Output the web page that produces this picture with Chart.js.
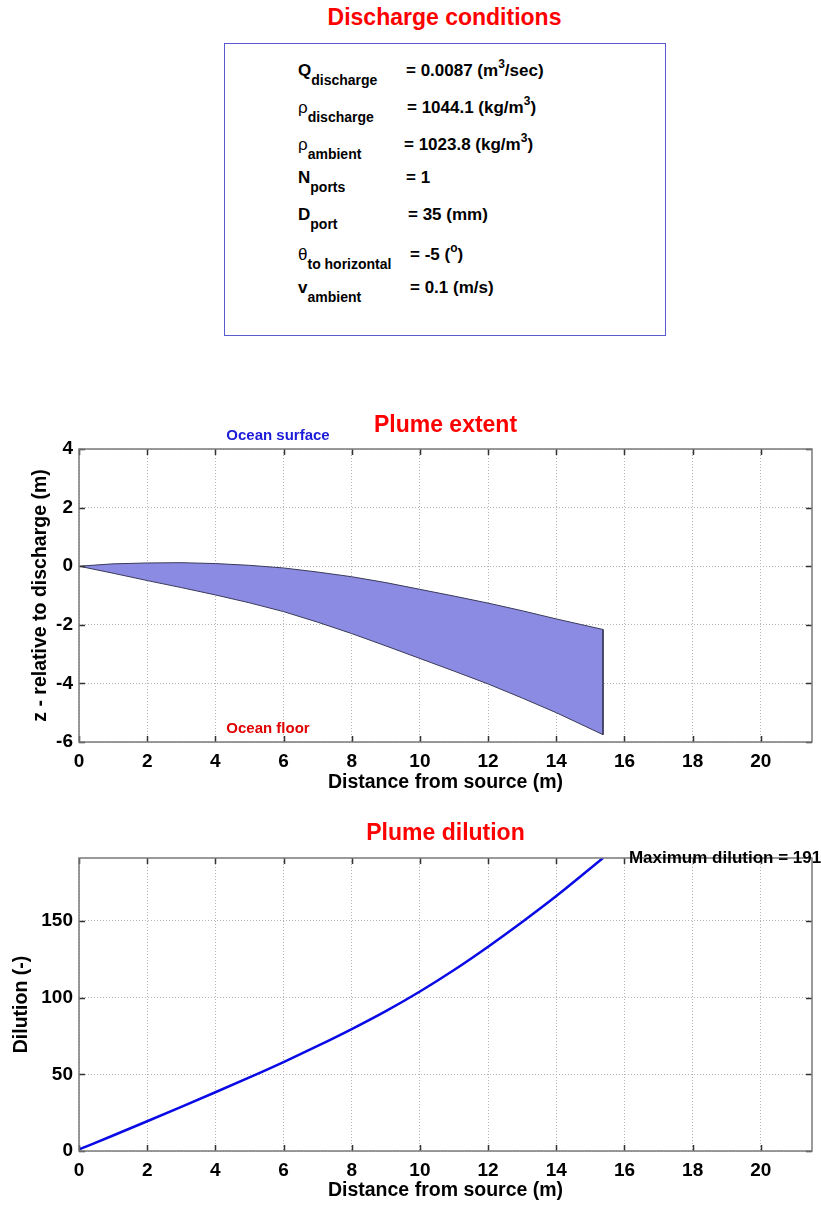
<!DOCTYPE html>
<html>
<head>
<meta charset="utf-8">
<script src="https://cdn.jsdelivr.net/npm/chart.js@4.4.0/dist/chart.umd.min.js"></script>
<style>
  body { margin: 0; background: #fff; }
  #page { position: relative; width: 821px; height: 1205px; overflow: hidden; font-family: 'Liberation Sans', Arial, sans-serif; }
  .head { position: absolute; left: 0; width: 889px; text-align: center; color: #ff0000; font-weight: bold; font-size: 23px; line-height: 23px; }
  #box { position: absolute; left: 224px; top: 43px; width: 442px; height: 293px; box-sizing: border-box; border: 1.5px solid #5a5ad0; }
  .row { position: absolute; font-size: 17px; line-height: 17px; font-weight: bold; color: #000; white-space: nowrap; }
  .row .sym.greek { font-weight: normal; }
  .row .sub { font-size: 14px; position: relative; top: 9px; }
  .row sup { font-size: 12px; line-height: 0; position: relative; top: -1px; }
  canvas { position: absolute; left: 0; }
</style>
</head>
<body>
<div id="page">
  <div class="head" style="top:6px">Discharge conditions</div>
  <div id="box"></div>
  <canvas id="extentChart" width="821" height="400" style="top:400px"></canvas>
  <canvas id="dilutionChart" width="821" height="405" style="top:800px"></canvas>
</div>
<script>
// discharge parameters
const paramSymbols = ['Q', 'ρ', 'ρ', 'N', 'D', 'θ', 'v'];
const paramSubs = ['discharge', 'discharge', 'ambient', 'ports', 'port', 'to horizontal', 'ambient'];
const paramValues = ['0.0087', '1044.1', '1023.8', '1', '35', '-5', '0.1'];
const paramUnits = ['(m<sup>3</sup>/sec)', '(kg/m<sup>3</sup>)', '(kg/m<sup>3</sup>)', '', '(mm)', '(<sup>o</sup>)', '(m/s)'];

// plume extent (m)
const plumeX = [0, 1, 2, 3, 4, 5, 6, 7, 8, 9, 10, 11, 12, 13, 14, 15.37];
const plumeTop = [0, 0.08, 0.11, 0.12, 0.09, 0.03, -0.06, -0.2, -0.36, -0.56, -0.79, -1.02, -1.26, -1.52, -1.8, -2.16];
const plumeBottom = [0, -0.24, -0.49, -0.73, -0.98, -1.25, -1.55, -1.91, -2.3, -2.72, -3.15, -3.58, -4.02, -4.5, -5.0, -5.75];

// plume dilution
const dilutionX = [0, 1, 2, 3, 4, 5, 6, 7, 8, 9, 10, 11, 12, 13, 14, 15.37];
const dilution = [1, 10.1, 19.4, 28.8, 38.3, 48.0, 58.0, 68.5, 79.5, 91.2, 104.0, 118.0, 133.2, 149.3, 166.2, 191];

const FONT = "'Liberation Sans', Arial, sans-serif";

// box rows: baseline y and value x inside page
const rowBase = [76, 113, 150, 183, 220, 260, 293];
const valueLeft = [406, 407, 404, 406, 408, 410, 410];

const buildBox = function () {
  const page = document.getElementById('page');
  let html = '';
  for (let i = 0; i < paramSymbols.length; i++) {
    const top = rowBase[i] - 14;
    const greek = /[ρθ]/.test(paramSymbols[i]) ? ' greek' : '';
    html += `<div class="row" style="left:298px;top:${top}px"><span class="sym${greek}">${paramSymbols[i]}</span><span class="sub">${paramSubs[i]}</span></div>`;
    html += `<div class="row" style="left:${valueLeft[i]}px;top:${top}px">= ${paramValues[i]} ${paramUnits[i]}</div>`;
  }
  page.insertAdjacentHTML('beforeend', html);
};

// matlab style frame, inward ticks, title and text notes
const matlabAxes = {
  id: 'matlabAxes',
  afterDraw(chart, args, opts) {
    const { ctx, chartArea: a } = chart;
    const x = chart.scales.x, y = chart.scales.y;
    ctx.save();
    ctx.strokeStyle = '#333';
    ctx.lineWidth = 1.5;
    ctx.beginPath();
    x.ticks.forEach(t => {
      const px = Math.round(x.getPixelForValue(t.value)) + 0.5;
      ctx.moveTo(px, a.bottom); ctx.lineTo(px, a.bottom - 6);
      ctx.moveTo(px, a.top); ctx.lineTo(px, a.top + 6);
    });
    y.ticks.forEach(t => {
      const py = Math.round(y.getPixelForValue(t.value)) + 0.5;
      ctx.moveTo(a.left, py); ctx.lineTo(a.left + 6, py);
      ctx.moveTo(a.right, py); ctx.lineTo(a.right - 6, py);
    });
    ctx.stroke();
    ctx.strokeStyle = '#7a7a7a';
    ctx.lineWidth = 1.5;
    ctx.strokeRect(a.left, a.top, a.right - a.left, a.bottom - a.top);

    ctx.fillStyle = '#ff0000';
    ctx.font = 'bold 23px ' + FONT;
    ctx.textAlign = 'center';
    ctx.textBaseline = 'alphabetic';
    ctx.fillText(opts.title, (a.left + a.right) / 2, opts.titleY);

    (opts.notes || []).forEach(n => {
      ctx.fillStyle = n.color;
      ctx.font = n.font;
      ctx.textAlign = 'left';
      ctx.textBaseline = n.baseline;
      ctx.fillText(n.text, x.getPixelForValue(n.x), y.getPixelForValue(n.y));
    });
    ctx.restore();
  }
};

const xAxis = function (height, titlePad) {
  return {
    type: 'linear',
    min: 0,
    max: 21.5,
    ticks: { stepSize: 2, includeBounds: false, autoSkip: false, maxRotation: 0, color: '#000', padding: 8, font: { family: FONT, size: 19, weight: 'bold' } },
    grid: { color: '#b4b4b4', drawTicks: false },
    border: { display: false, dash: [1, 2] },
    title: { display: true, text: 'Distance from source (m)', color: '#000', font: { family: FONT, size: 19.5, weight: 'bold' }, padding: { top: 0, bottom: titlePad } },
    afterFit: function (scale) { scale.height = height; }
  };
};

const yAxis = function (min, max, step, text, titlePad) {
  return {
    type: 'linear',
    min: min,
    max: max,
    ticks: { stepSize: step, includeBounds: false, color: '#000', padding: 6, font: { family: FONT, size: 19, weight: 'bold' } },
    grid: { color: '#b4b4b4', drawTicks: false },
    border: { display: false, dash: [1, 2] },
    title: { display: true, text: text, color: '#000', font: { family: FONT, size: 19.5, weight: 'bold' }, padding: { top: titlePad, bottom: 0 } },
    afterFit: function (scale) { scale.width = 79; }
  };
};

const extentChart = function () {
  // closed outline: top edge out, bottom edge back
  const shape = [];
  plumeX.forEach((x, i) => shape.push({ x: x, y: plumeTop[i] }));
  for (let i = plumeX.length - 1; i >= 0; i--) shape.push({ x: plumeX[i], y: plumeBottom[i] });

  new Chart(document.getElementById('extentChart'), {
    type: 'line',
    data: {
      datasets: [{
        data: shape,
        fill: 'shape',
        backgroundColor: '#8b8be3',
        borderColor: '#3a3a5a',
        borderWidth: 1,
        pointRadius: 0,
        tension: 0
      }]
    },
    options: {
      responsive: false,
      animation: false,
      layout: { padding: { top: 49, right: 9, left: 0, bottom: 0 } },
      scales: {
        x: xAxis(58, 6),
        y: yAxis(-6, 4, 2, 'z - relative to discharge (m)', 29)
      },
      plugins: {
        legend: { display: false },
        tooltip: { enabled: false },
        matlabAxes: {
          title: 'Plume extent',
          titleY: 32,
          notes: [
            { x: 4.32, y: 4.31, text: 'Ocean surface', color: '#1c1cd8', font: 'bold 15px ' + FONT, baseline: 'alphabetic' },
            { x: 4.32, y: -5.69, text: 'Ocean floor', color: '#e00000', font: 'bold 15px ' + FONT, baseline: 'alphabetic' }
          ]
        }
      }
    },
    plugins: [matlabAxes]
  });
};

const dilutionChart = function () {
  const maxDilution = Math.max(...dilution);
  new Chart(document.getElementById('dilutionChart'), {
    type: 'line',
    data: {
      datasets: [{
        data: dilutionX.map((x, i) => ({ x: x, y: dilution[i] })),
        borderColor: '#0a0ae6',
        borderWidth: 2.5,
        pointRadius: 0,
        fill: false,
        cubicInterpolationMode: 'monotone'
      }]
    },
    options: {
      responsive: false,
      animation: false,
      layout: { padding: { top: 58, right: 9, left: 0, bottom: 0 } },
      scales: {
        x: xAxis(54, 3),
        y: yAxis(0, maxDilution, 50, 'Dilution (-)', 10)
      },
      plugins: {
        legend: { display: false },
        tooltip: { enabled: false },
        matlabAxes: {
          title: 'Plume dilution',
          titleY: 40,
          notes: [
            { x: 16.13, y: maxDilution, text: 'Maximum dilution = ' + Math.round(maxDilution), color: '#000', font: 'bold 17px ' + FONT, baseline: 'middle' }
          ]
        }
      }
    },
    plugins: [matlabAxes]
  });
};

document.addEventListener('DOMContentLoaded', function () {
  buildBox();
  extentChart();
  dilutionChart();
});
</script>
</body>
</html>
